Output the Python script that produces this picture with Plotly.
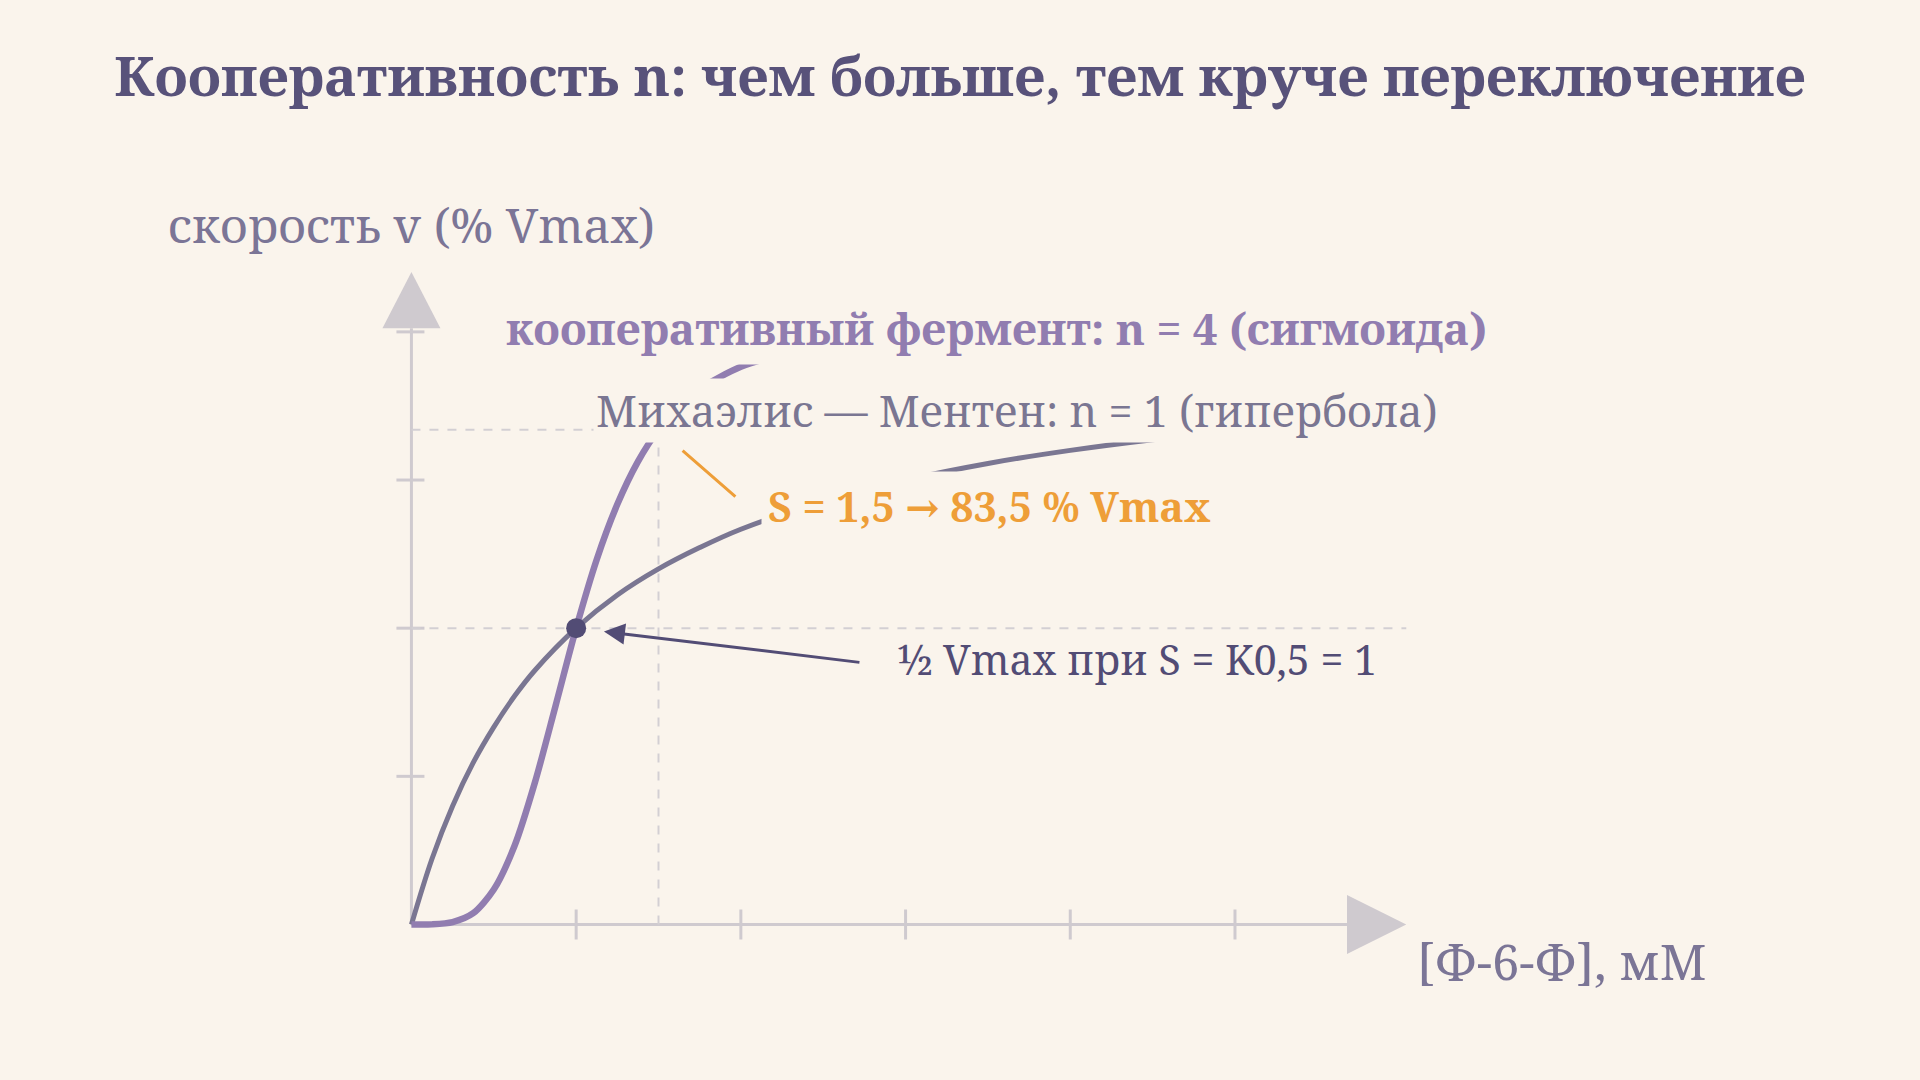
import plotly.graph_objects as go

# substrate concentration, mM, and read-off rates (% Vmax)
s_mm = [0, 0.125, 0.25, 0.375, 0.5, 0.625, 0.75, 1, 1.25, 1.5, 1.75, 2, 2.5, 3, 3.5, 4,
        4.5, 5, 5.5, 6]
v_mm = [0, 11.1, 20, 27.3, 33.3, 38.5, 42.9, 50, 55.6, 60, 63.6, 66.7, 71.4, 75, 77.8, 80,
        81.8, 83.3, 84.6, 85.7]

s_hill = [0, 0.125, 0.25, 0.375, 0.5, 0.625, 0.75, 0.875, 1, 1.125, 1.25, 1.375, 1.5,
          1.625, 1.75, 2, 2.25, 2.5, 3, 3.5, 4, 5, 6]
v_hill = [0, 0.02, 0.4, 1.9, 5.9, 13.2, 24.0, 36.9, 50, 61.6, 70.9, 78.1, 83.5,
          87.5, 90.4, 94.1, 96.2, 97.5, 98.8, 99.3, 99.6, 99.8, 99.9]

x_ticks = [1, 2, 3, 4, 5]
y_ticks = [25, 50, 75, 100]

half_point = (1, 50)
mark_point = (1.5, 83.5)

BG = "#faf4ec"
AXIS = "#cfcacf"
DASH = "#d3cfd3"
MM_COL = "#7a7692"
HILL_COL = "#917db0"
ORANGE = "#ee9e38"
DARK = "#524c75"
FONT = "Noto Serif, DejaVu Serif, serif"

# pixel scale helpers (x: 164.7 px per mM, y: 5.927 px per %)
PX = 1 / 164.7
PY = 1 / 5.927

fig = go.Figure()

fig.add_trace(go.Scatter(x=s_mm, y=v_mm, mode="lines",
                         line=dict(color=MM_COL, width=5, shape="spline", smoothing=1)))
fig.add_trace(go.Scatter(x=s_hill, y=v_hill, mode="lines",
                         line=dict(color=HILL_COL, width=6.5, shape="spline", smoothing=0.8)))
fig.add_trace(go.Scatter(x=[mark_point[0]], y=[mark_point[1]], mode="markers",
                         marker=dict(color="#f6e6c8", size=22, opacity=0.8)))
fig.add_trace(go.Scatter(x=[half_point[0]], y=[half_point[1]], mode="markers",
                         marker=dict(color=DARK, size=20)))

shapes = []
# axes
shapes.append(dict(type="line", x0=0, y0=0, x1=5.68, y1=0, layer="below",
                   line=dict(color=AXIS, width=3)))
shapes.append(dict(type="line", x0=0, y0=0, x1=0, y1=100.6, layer="below",
                   line=dict(color=AXIS, width=3)))
# arrow heads
xb, xt, hv = 5.68, 6.04, 29.4 * PY
shapes.append(dict(type="path", path=f"M {xb},{-hv} L {xt},0 L {xb},{hv} Z",
                   fillcolor=AXIS, line=dict(width=0), layer="below"))
yb, yt, hs = 100.6, 110.1, 29 * PX
shapes.append(dict(type="path", path=f"M {-hs},{yb} L 0,{yt} L {hs},{yb} Z",
                   fillcolor=AXIS, line=dict(width=0), layer="below"))
# cross ticks
for t in x_ticks:
    shapes.append(dict(type="line", x0=t, x1=t, y0=-15 * PY, y1=15 * PY, layer="below",
                       line=dict(color=AXIS, width=3)))
for t in y_ticks:
    shapes.append(dict(type="line", x0=-15 * PX, x1=13 * PX, y0=t, y1=t, layer="below",
                       line=dict(color=AXIS, width=3)))
# guide lines
shapes.append(dict(type="line", x0=0, x1=6.04, y0=half_point[1], y1=half_point[1],
                   layer="below", line=dict(color=DASH, width=2, dash="dash")))
shapes.append(dict(type="line", x0=0, x1=mark_point[0], y0=mark_point[1], y1=mark_point[1],
                   layer="below", line=dict(color=DASH, width=2, dash="dash")))
shapes.append(dict(type="line", x0=mark_point[0], x1=mark_point[0], y0=0, y1=mark_point[1],
                   layer="below", line=dict(color=DASH, width=2, dash="dash")))

annotations = []


def label(text, x, y, color, size, bold=False, bg=True, pad=6):
    annotations.append(dict(
        text=f"<b>{text}</b>" if bold else text, x=x - 0.04, y=y, xref="x", yref="y",
        xanchor="left", yanchor="middle", showarrow=False,
        font=dict(family=FONT, size=size, color=color),
        bgcolor=BG if bg else None, borderpad=pad))


# arrows
annotations.append(dict(x=half_point[0], y=half_point[1], ax=2.729, ay=44.2,
                        xref="x", yref="y", axref="x", ayref="y", text="",
                        showarrow=True, arrowhead=2, arrowsize=1.4, arrowwidth=3,
                        arrowcolor=DARK, standoff=28))
annotations.append(dict(x=mark_point[0], y=mark_point[1], ax=1.976, ay=71.96,
                        xref="x", yref="y", axref="x", ayref="y", text="",
                        showarrow=True, arrowhead=0, arrowwidth=3,
                        arrowcolor=ORANGE, standoff=32))

label("кооперативный фермент: n = 4 (сигмоида)", 0.573, 100.7, HILL_COL, 44, bold=True)
label("Михаэлис — Ментен: n = 1 (гипербола)", 1.145, 86.8, MM_COL, 43, pad=2)
label("S = 1,5 → 83,5 % Vmax", 2.165, 70.6, ORANGE, 41, bold=True)
label("½ Vmax при S = K0,5 = 1", 2.954, 44.8, DARK, 41, bg=False)
label("скорость v (% Vmax)", -1.478, 118.2, "#7b7596", 48, bg=False)
label("[Ф-6-Ф], мМ", 6.105, -6.16, "#7b7596", 49)

fig.update_layout(
    width=1920, height=1080, autosize=False,
    margin=dict(l=0, r=0, t=0, b=0),
    paper_bgcolor=BG, plot_bgcolor=BG,
    showlegend=False,
    title=dict(text="<b>Кооперативность n: чем больше, тем круче переключение</b>",
               x=0.5, xanchor="center", y=1 - 77 / 1080, yanchor="middle",
               font=dict(family=FONT, size=55, color="#58527a")),
    xaxis=dict(visible=False, range=[-2.498, 9.159], fixedrange=True),
    yaxis=dict(visible=False, range=[-26.24, 156.0], fixedrange=True),
    shapes=shapes,
    annotations=annotations,
)

fig.write_html("out.html", config={"displayModeBar": False},
               post_script="document.body.style.margin='0';"
                           f"document.body.style.background='{BG}';")
